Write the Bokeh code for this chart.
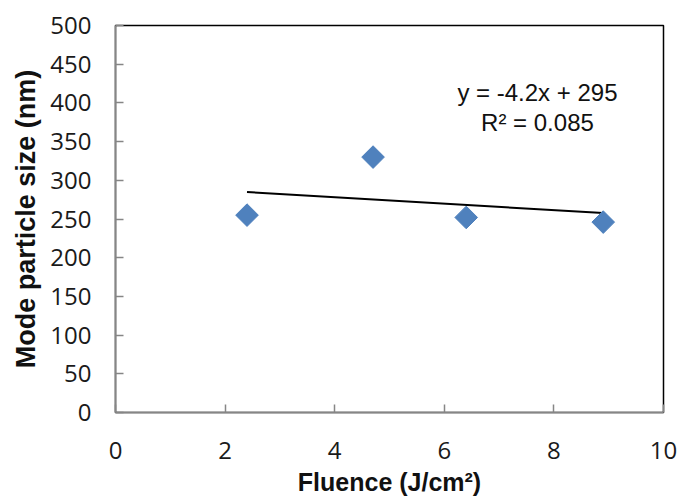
import numpy as np
from bokeh.plotting import figure
from bokeh.models import Range1d, FixedTicker, Label
from bokeh.embed import file_html
from bokeh.resources import INLINE

fluence = [2.4, 4.7, 6.4, 8.9]
mode_size = [255, 330, 252, 246]
trend_slope = -4.2
trend_intercept = 295
x_ticks = [0, 2, 4, 6, 8, 10]
y_ticks = [0, 50, 100, 150, 200, 250, 300, 350, 400, 450, 500]
eq_text = "y = -4.2x + 295"
r2_text = "R² = 0.085"

p = figure(width=681, height=499, output_backend="svg", toolbar_location=None,
           x_range=Range1d(0, 10), y_range=Range1d(0, 500),
           min_border_left=115, min_border_right=18, min_border_top=25, min_border_bottom=87)
p.xgrid.visible = False
p.ygrid.visible = False
p.outline_line_color = "black"
p.outline_line_width = 1.5

for ax in (p.xaxis[0], p.yaxis[0]):
    ax.axis_line_color = "#868686"
    ax.axis_line_width = 1.5
    ax.major_tick_line_color = "#868686"
    ax.major_tick_line_width = 1.5
    ax.major_tick_in = 8
    ax.major_tick_out = 0
    ax.minor_tick_line_color = None
    ax.major_label_text_font = "Open Sans"
    ax.major_label_text_font_size = "24px"
    ax.major_label_text_color = "#1a1a1a"
    ax.axis_label_text_font = "Liberation Sans"
    ax.axis_label_text_font_style = "bold"
    ax.axis_label_text_color = "#111111"

p.xaxis.axis_label_text_font_size = "25px"
p.yaxis.axis_label_text_font_size = "27px"
p.xaxis.ticker = FixedTicker(ticks=x_ticks)
p.yaxis.ticker = FixedTicker(ticks=y_ticks)
p.xaxis.axis_label = "Fluence (J/cm²)"
p.yaxis.axis_label = "Mode particle size (nm)"
p.xaxis.major_label_standoff = 29
p.yaxis.major_label_standoff = 24
p.xaxis.axis_label_standoff = 6
p.yaxis.axis_label_standoff = 6

xs = [min(fluence), max(fluence)]
ys = [trend_slope * x + trend_intercept for x in xs]
p.line(xs, ys, line_color="black", line_width=2)

p.scatter(fluence, mode_size, marker="square", angle=np.pi / 4, size=16,
          fill_color="#4F81BD", line_color="#4F81BD")

p.add_layout(Label(x=7.70, y=414, text=eq_text,
                   text_font="Liberation Sans", text_font_size="24px",
                   text_align="center", text_baseline="middle", text_color="#111111"))
p.add_layout(Label(x=7.70, y=375, text=r2_text,
                   text_font="Liberation Sans", text_font_size="24px",
                   text_align="center", text_baseline="middle", text_color="#111111"))

open("out.html", "w").write(file_html(p, INLINE))
